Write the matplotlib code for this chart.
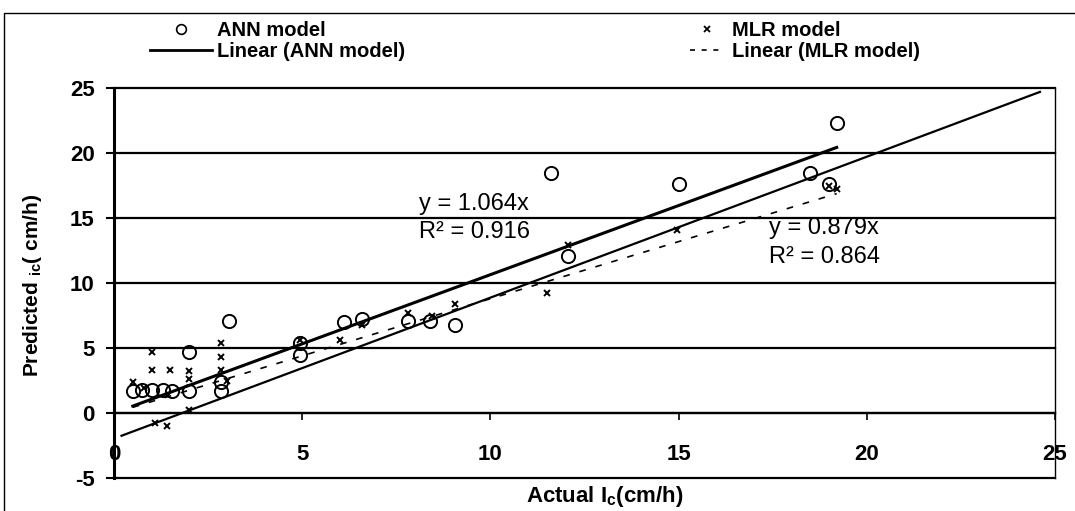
import matplotlib.pyplot as plt
from matplotlib.lines import Line2D
from matplotlib.patches import Rectangle

plt.rcParams['font.family'] = ['Liberation Sans', 'DejaVu Sans']
plt.rcParams['axes.unicode_minus'] = False

# ANN model predictions (actual vs predicted, cm/h)
ann_x = [0.5, 0.75, 1.0, 1.3, 1.55, 2.0, 2.0, 2.85, 2.85, 3.05, 4.95, 4.95,
         6.1, 6.6, 7.8, 8.4, 9.05, 11.6, 12.05, 15.0, 18.5, 19.0, 19.2]
ann_y = [1.7, 1.8, 1.8, 1.8, 1.7, 1.7, 4.7, 2.4, 1.7, 7.1, 5.4, 4.5,
         7.0, 7.2, 7.1, 7.1, 6.8, 18.5, 12.1, 17.6, 18.5, 17.6, 22.3]

# MLR model predictions
mlr_x = [0.5, 0.8, 1.0, 1.0, 1.1, 1.4, 1.5, 2.0, 2.0, 2.0, 2.85, 2.85, 2.85,
         3.0, 4.95, 6.0, 6.6, 7.8, 8.45, 9.05, 11.5, 12.05, 14.95, 19.0, 19.2]
mlr_y = [2.4, 1.9, 4.7, 3.3, -0.8, -1.0, 3.3, 3.2, 2.6, 0.2, 5.4, 4.3, 3.3,
         2.5, 5.6, 5.6, 6.8, 7.7, 7.5, 8.4, 9.2, 12.9, 14.1, 17.5, 17.2]

ann_slope = 1.064
ann_r2 = 0.916
mlr_slope = 0.879
mlr_r2 = 0.864

# thin solid line drawn across the chart (ends)
ref_x = [0.2, 24.6]
ref_y = [-1.75, 24.7]

yticks = [-5, 0, 5, 10, 15, 20, 25]
xticks = [0, 5, 10, 15, 20, 25]

fig = plt.figure(figsize=(10.75, 5.11), dpi=100)
ax = fig.add_axes([114/1075, 1-478/511, (1055-114)/1075, (478-88)/511])

# outer chart border
fig.patches.append(Rectangle((4/1075, -0.2), 1.2, 1.2-13/511, transform=fig.transFigure,
                             fill=False, edgecolor='k', lw=1.0))

for v in yticks:
    ax.axhline(v, color='k', lw=1.6, clip_on=False, zorder=1)

ax.set_xlim(0, 25)
ax.set_ylim(-5, 25)

ax.spines['top'].set_visible(False)
ax.spines['left'].set_linewidth(2.2)
ax.spines['right'].set_linewidth(1.0)
ax.spines['bottom'].set_position(('data', 0))
ax.spines['bottom'].set_linewidth(1.6)

ax.set_yticks(yticks)
ax.set_xticks(xticks)
ax.tick_params(axis='y', direction='out', length=6, width=1.5, pad=8, labelsize=16)
ax.tick_params(axis='x', direction='out', length=5, width=1.2, pad=17, labelsize=16)
for lab in ax.get_xticklabels() + ax.get_yticklabels():
    lab.set_fontweight('bold')

# trendlines
tx = [min(ann_x), max(ann_x)]
ax.plot(tx, [ann_slope*v for v in tx], color='k', lw=2.2, zorder=3)
tx2 = [min(mlr_x), max(mlr_x)]
ax.plot(tx2, [mlr_slope*v for v in tx2], color='k', lw=1.2, dashes=(4, 6), zorder=3)
ax.plot(ref_x, ref_y, color='k', lw=1.6, zorder=3)

ax.plot(ann_x, ann_y, 'o', ms=9.5, mfc='none', mec='k', mew=1.4, zorder=4)
ax.plot(mlr_x, mlr_y, 'x', ms=4.5, mec='k', mew=1.4, zorder=4)

ax.text(8.1, 16.1, 'y = %.3fx' % ann_slope, fontsize=17, va='center')
ax.text(8.1, 13.9, 'R² = %.3f' % ann_r2, fontsize=17, va='center')
ax.text(17.4, 14.2, 'y = %.3fx' % mlr_slope, fontsize=17, va='center')
ax.text(17.4, 12.0, 'R² = %.3f' % mlr_r2, fontsize=17, va='center')

ax.set_xlabel(r'Actual I$_\mathregular{c}$(cm/h)', fontsize=16, fontweight='bold', labelpad=14)
ax.xaxis.label.set_x((605-114)/941)
fig.text(33/1075, 1-285/511, r'Predicted $_\mathregular{ic}$( cm/h)', fontsize=15,
         fontweight='bold', rotation=90, ha='center', va='center')

# legend, two columns placed by hand
h1 = [Line2D([], [], ls='none', marker='o', ms=7, mfc='none', mec='k', mew=1.2),
      Line2D([], [], color='k', lw=2.0)]
leg1 = fig.legend(h1, ['ANN model', 'Linear (ANN model)'], loc='upper left',
                  bbox_to_anchor=(150/1075, 1-21/511), frameon=False, borderpad=0,
                  borderaxespad=0, handlelength=3.1, handletextpad=0.25, labelspacing=0.1,
                  prop={'size': 14.5, 'weight': 'bold'})
h2 = [Line2D([], [], ls='none', marker='x', ms=4, mec='k', mew=1.3),
      Line2D([], [], color='k', lw=1.2, dashes=(3, 4))]
leg2 = fig.legend(h2, ['MLR model', 'Linear (MLR model)'], loc='upper left',
                  bbox_to_anchor=(690/1075, 1-21/511), frameon=False, borderpad=0,
                  borderaxespad=0, handlelength=1.7, handletextpad=0.4, labelspacing=0.1,
                  prop={'size': 14.5, 'weight': 'bold'})

fig.savefig('out.png', dpi=100)
